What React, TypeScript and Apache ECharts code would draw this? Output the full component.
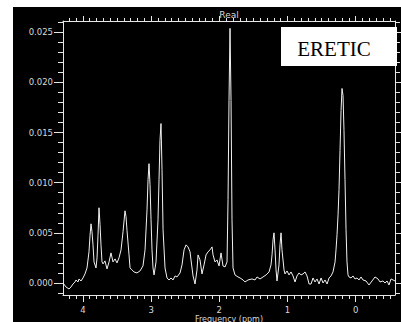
import React, { useEffect, useRef } from "react";
import * as echarts from "echarts";

// Chemical shift (ppm) and intensity
const ppm = [
  4.292, 4.248, 4.204, 4.175, 4.145, 4.116, 4.101, 4.072, 4.057, 4.028, 3.999, 3.97, 3.94, 3.911, 3.896, 3.881,
  3.867, 3.852, 3.837, 3.808, 3.793, 3.779, 3.764, 3.749, 3.735, 3.72, 3.705, 3.676, 3.647, 3.617, 3.588, 3.559,
  3.529, 3.5, 3.471, 3.441, 3.412, 3.383, 3.368, 3.353, 3.324, 3.309, 3.28, 3.251, 3.207, 3.163, 3.119, 3.089,
  3.06, 3.045, 3.031, 3.016, 3.001, 2.987, 2.972, 2.957, 2.928, 2.899, 2.884, 2.87, 2.855, 2.84, 2.825, 2.796,
  2.767, 2.737, 2.708, 2.679, 2.649, 2.62, 2.576, 2.547, 2.517, 2.488, 2.459, 2.429, 2.415, 2.385, 2.356, 2.327,
  2.312, 2.283, 2.254, 2.224, 2.195, 2.166, 2.136, 2.107, 2.092, 2.063, 2.034, 2.004, 1.975, 1.946, 1.916, 1.887,
  1.872, 1.858, 1.843, 1.828, 1.814, 1.799, 1.77, 1.726, 1.696, 1.652, 1.623, 1.579, 1.52, 1.476, 1.447, 1.403,
  1.359, 1.315, 1.271, 1.242, 1.227, 1.212, 1.198, 1.183, 1.168, 1.154, 1.125, 1.11, 1.095, 1.081, 1.051, 1.037,
  1.007, 0.978, 0.949, 0.919, 0.89, 0.861, 0.831, 0.802, 0.773, 0.743, 0.714, 0.684, 0.655, 0.626, 0.597, 0.567,
  0.538, 0.508, 0.479, 0.45, 0.42, 0.391, 0.362, 0.333, 0.303, 0.289, 0.274, 0.259, 0.245, 0.23, 0.215, 0.201,
  0.186, 0.172, 0.157, 0.142, 0.128, 0.113, 0.098, 0.069, 0.04, 0.01, -0.019, -0.048, -0.078, -0.107, -0.151, -0.195,
  -0.239, -0.283, -0.327, -0.356, -0.4, -0.43, -0.459, -0.488, -0.518, -0.547, -0.576,
];
const intensity = [
  0.0, -0.0004, -0.0006, -0.0004, -0.0001, 0.0001, 0.0003, 0.0001, 0.0004, 0.0002, 0.0005, 0.0009, 0.0015, 0.0031, 0.0047, 0.0059,
  0.0051, 0.0038, 0.0021, 0.0015, 0.0025, 0.0047, 0.0075, 0.0058, 0.0038, 0.0021, 0.0019, 0.0022, 0.0014, 0.0021, 0.003, 0.0021,
  0.0024, 0.002, 0.0025, 0.0033, 0.0051, 0.0072, 0.0066, 0.0052, 0.0028, 0.0015, 0.0013, 0.0011, 0.001, 0.0012, 0.0017, 0.0033,
  0.0073, 0.0103, 0.0119, 0.0098, 0.0063, 0.0033, 0.0015, 0.0008, 0.0021, 0.0063, 0.0103, 0.0142, 0.0159, 0.0113, 0.0053, 0.0015,
  0.0005, 0.0003, 0.0005, 0.0003, 0.0007, 0.0006, 0.001, 0.0018, 0.0033, 0.0038, 0.0036, 0.0031, 0.0023, 0.0007, -0.0001, 0.0013,
  0.0028, 0.0023, 0.0009, 0.0018, 0.0028, 0.0031, 0.0033, 0.0036, 0.0028, 0.0021, 0.0023, 0.0017, 0.003, 0.0017, 0.0016, 0.0021,
  0.0083, 0.0182, 0.0254, 0.0182, 0.0063, 0.0015, 0.0008, 0.0006, 0.0005, 0.0003, 0.0001, 0.0003, 0.0004, 0.0003, 0.0006, 0.0004,
  0.0006, 0.0008, 0.0011, 0.0018, 0.0028, 0.0043, 0.005, 0.0033, 0.0013, 0.0002, 0.0018, 0.0038, 0.005, 0.0033, 0.0013, 0.0009,
  0.0012, 0.0008, 0.0011, 0.0007, 0.0001, 0.0007, 0.001, 0.0008, 0.0009, 0.0011, 0.0007, -0.0001, -0.0001, 0.0005, 0.0001, 0.0004,
  -0.0001, 0.0005, 0.0, 0.0003, -0.0001, 0.0005, 0.0007, 0.0011, 0.0021, 0.0033, 0.0048, 0.0068, 0.0093, 0.0132, 0.0172, 0.0194,
  0.0187, 0.0152, 0.0103, 0.0053, 0.0021, 0.0008, 0.0006, 0.0005, 0.0007, 0.0004, 0.0005, 0.0003, 0.0006, 0.0003, 0.0002, -0.0002,
  0.0002, 0.0006, 0.0004, 0.0001, 0.0002, 0.0, 0.0002, -0.0002, 0.0004, 0.0003, 0.0002,
];

// Axis extents and tick labels
const X_MIN = -0.576;
const X_MAX = 4.292;
const Y_MIN = -0.0012;
const Y_MAX = 0.02613;
const xMajorTicks = [0, 1, 2, 3, 4];
const yMajorTicks = [0, 0.005, 0.01, 0.015, 0.02, 0.025];
const xMinorTicks: number[] = [];
for (let i = -5; i <= 42; i++) xMinorTicks.push(i / 10);
const yMinorTicks: number[] = [];
for (let i = -1; i <= 26; i++) yMinorTicks.push(i / 1000);

const titleText = "Real";
const xName = "Frequency (ppm)";
const boxText = "ERETIC";

const AX = "#e6e6e6";
const LBL = "#d8d8d8";
const FONT = "DejaVu Sans";

export default function App() {
  const ref = useRef<HTMLDivElement>(null);
  useEffect(() => {
    if (!ref.current) return;
    const chart = echarts.init(ref.current, undefined, { renderer: "svg" });
    const xCommon = { type: "value", inverse: true, min: X_MIN, max: X_MAX, splitLine: { show: false } };
    const yCommon = { type: "value", min: Y_MIN, max: Y_MAX, splitLine: { show: false } };
    const line = (show: boolean) => ({ show, onZero: false, lineStyle: { color: AX, width: 1 } });
    const tick = (vals: number[], len: number) => ({
      show: true,
      customValues: vals,
      length: len,
      inside: false,
      lineStyle: { color: AX, width: 1 },
    });
    const labelStyle = { color: LBL, fontFamily: FONT, fontSize: 8.5 };
    chart.setOption({
      animation: false,
      backgroundColor: "#000000",
      grid: { left: 50, top: 14, width: 332, height: 274, containLabel: false, outerBoundsMode: "none" },
      xAxis: [
        { ...xCommon, position: "bottom", axisLine: line(true), axisTick: tick(xMinorTicks, 4), axisLabel: { show: false } },
        {
          ...xCommon,
          position: "bottom",
          axisLine: line(false),
          axisTick: tick(xMajorTicks, 7),
          axisLabel: { show: true, customValues: xMajorTicks, margin: 10, formatter: (v: number) => String(Math.round(v)), ...labelStyle },
          name: xName,
          nameLocation: "middle",
          nameGap: 20,
          nameMoveOverlap: false,
          nameTextStyle: { ...labelStyle, fontSize: 8, lineHeight: 8 },
        },
        { ...xCommon, position: "top", axisLine: line(true), axisTick: tick(xMinorTicks, 3), axisLabel: { show: false } },
        { ...xCommon, position: "top", axisLine: line(false), axisTick: tick(xMajorTicks, 5), axisLabel: { show: false } },
      ],
      yAxis: [
        { ...yCommon, position: "left", axisLine: line(true), axisTick: tick(yMinorTicks, 5), axisLabel: { show: false } },
        {
          ...yCommon,
          position: "left",
          axisLine: line(false),
          axisTick: tick(yMajorTicks, 9),
          axisLabel: { show: true, customValues: yMajorTicks, margin: 10, formatter: (v: number) => v.toFixed(3), ...labelStyle },
        },
        { ...yCommon, position: "right", axisLine: line(true), axisTick: tick(yMinorTicks, 5), axisLabel: { show: false } },
        { ...yCommon, position: "right", axisLine: line(false), axisTick: tick(yMajorTicks, 9), axisLabel: { show: false } },
      ],
      series: [
        {
          type: "line",
          xAxisIndex: 0,
          yAxisIndex: 0,
          data: ppm.map((p, i) => [p, intensity[i]]),
          showSymbol: false,
          symbol: "none",
          lineStyle: { color: "#f2f2f2", width: 1 },
          z: 3,
        },
      ],
      graphic: {
        elements: [
          {
            type: "text",
            x: 216,
            y: 8,
            z: 50,
            style: { text: titleText, fill: LBL, font: `9px "${FONT}"`, textAlign: "center", textVerticalAlign: "middle" },
          },
          {
            type: "rect",
            z: 60,
            shape: { x: 268, y: 20, width: 116, height: 39 },
            style: { fill: "#ffffff" },
          },
          {
            type: "text",
            x: 321,
            y: 42,
            z: 61,
            style: { text: boxText, fill: "#000000", font: `21px "Liberation Serif"`, textAlign: "center", textVerticalAlign: "middle" },
          },
        ],
      },
    });
    return () => chart.dispose();
  }, []);
  return (
    <div
      ref={ref}
      style={{ position: "absolute", left: 13, top: 7, width: 388, height: 315 }}
    />
  );
}
